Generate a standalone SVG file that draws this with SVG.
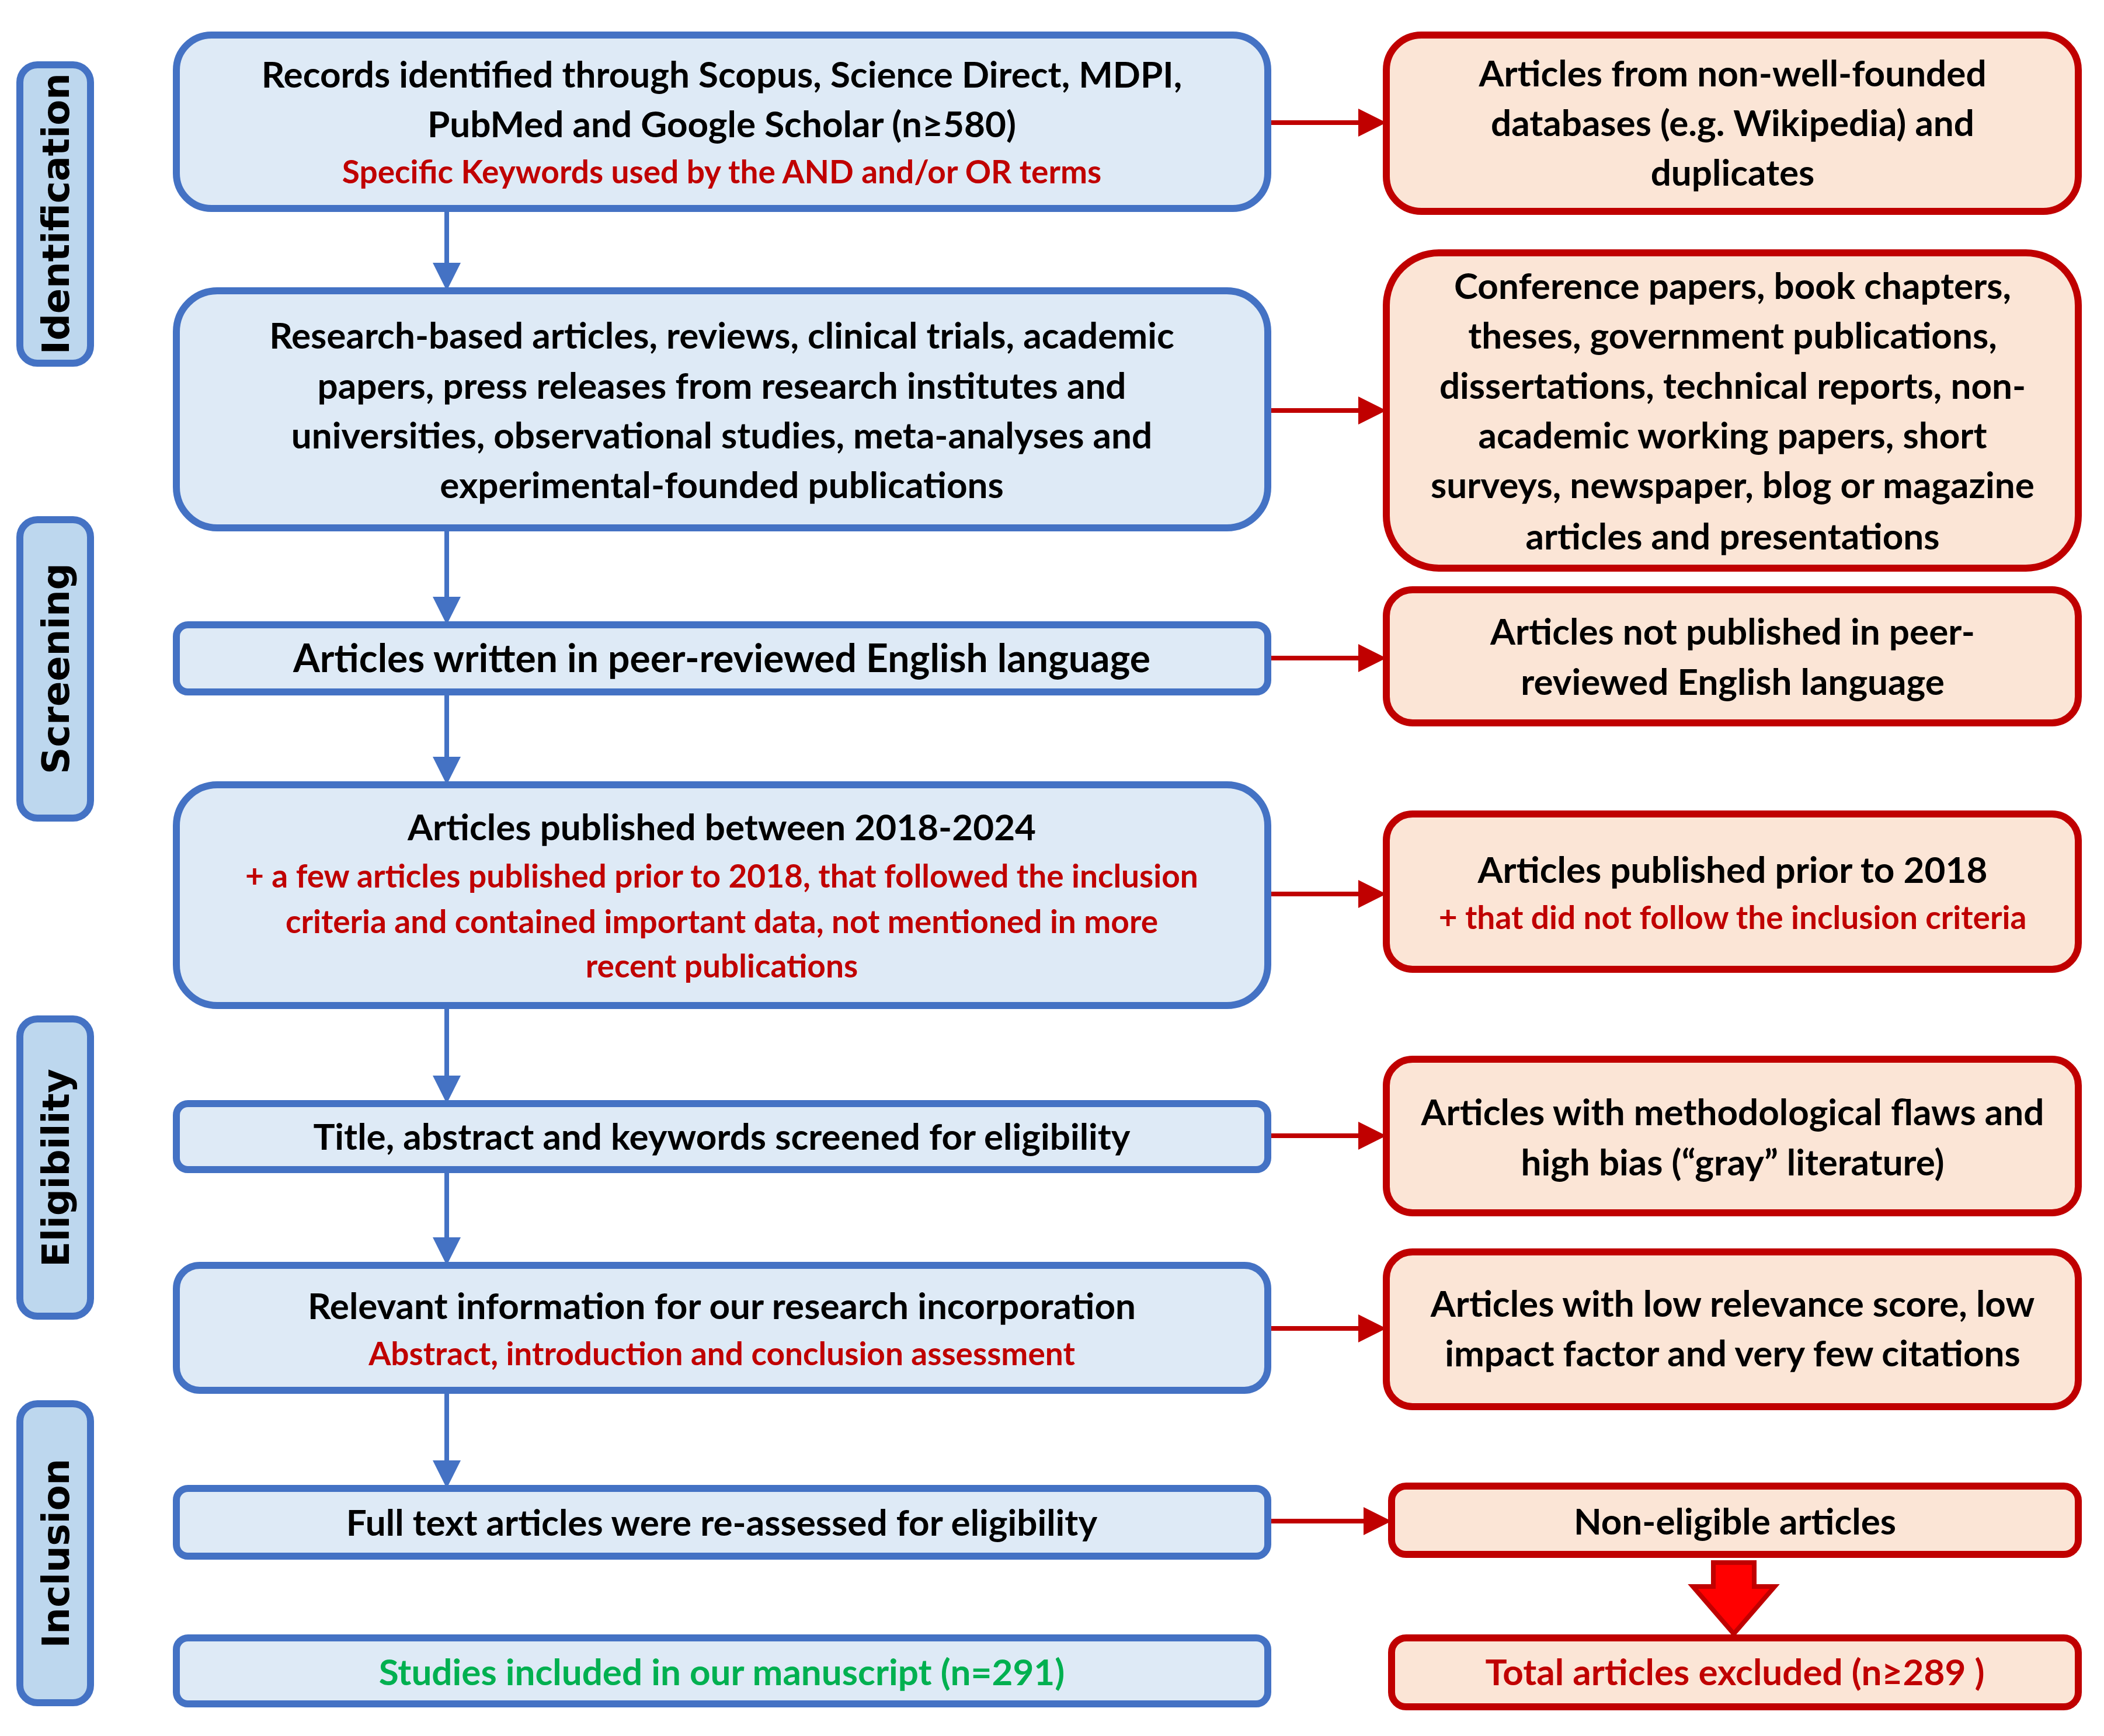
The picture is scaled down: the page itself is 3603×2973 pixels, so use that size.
<svg xmlns="http://www.w3.org/2000/svg" width="3603" height="2973" viewBox="0 0 3603 2973">
<style>
.b{fill:#DEEAF6;stroke:#4472C4;stroke-width:12}
.s{fill:#BDD7EE;stroke:#4472C4;stroke-width:12}
.r{fill:#FBE5D6;stroke:#C00000;stroke-width:12}
text{font-family:Lato,"Liberation Sans",sans-serif;font-weight:700;text-anchor:middle;fill:#000}
.t{font-size:62px}
.k{font-size:55px;fill:#C00000}
.st{font-family:"DejaVu Sans",sans-serif;font-size:64px}
.bl{stroke:#4472C4;stroke-width:8;fill:none}
.rl{stroke:#C00000;stroke-width:8;fill:none}
</style>
<defs>
<marker id="ab" markerWidth="6" markerHeight="6" refX="5" refY="3" orient="auto" markerUnits="strokeWidth"><path d="M0,0L6,3L0,6z" fill="#4472C4"/></marker>
<marker id="ar" markerWidth="6" markerHeight="6" refX="5" refY="3" orient="auto" markerUnits="strokeWidth"><path d="M0,0L6,3L0,6z" fill="#C00000"/></marker>
</defs>
<g id="stages">
<rect class="s" x="34" y="111" width="121" height="511" rx="30"/><text class="st" transform="translate(118,366) rotate(-90)">Identification</text>
<rect class="s" x="34" y="890" width="121" height="511" rx="30"/><text class="st" transform="translate(118,1145) rotate(-90)">Screening</text>
<rect class="s" x="34" y="1745" width="121" height="509" rx="30"/><text class="st" transform="translate(118,2000) rotate(-90)">Eligibility</text>
<rect class="s" x="34" y="2404" width="121" height="512" rx="30"/><text class="st" transform="translate(118,2660) rotate(-90)">Inclusion</text>
</g>
<g id="connectors">
<line class="bl" x1="765" y1="357" x2="765" y2="490" marker-end="url(#ab)"/>
<line class="bl" x1="765" y1="904" x2="765" y2="1062" marker-end="url(#ab)"/>
<line class="bl" x1="765" y1="1185" x2="765" y2="1336" marker-end="url(#ab)"/>
<line class="bl" x1="765" y1="1722" x2="765" y2="1882" marker-end="url(#ab)"/>
<line class="bl" x1="765" y1="2003" x2="765" y2="2159" marker-end="url(#ab)"/>
<line class="bl" x1="765" y1="2381" x2="765" y2="2541" marker-end="url(#ab)"/>
<line class="rl" x1="2171" y1="210" x2="2366" y2="210" marker-end="url(#ar)"/>
<line class="rl" x1="2171" y1="703" x2="2366" y2="703" marker-end="url(#ar)"/>
<line class="rl" x1="2171" y1="1127" x2="2366" y2="1127" marker-end="url(#ar)"/>
<line class="rl" x1="2171" y1="1531" x2="2366" y2="1531" marker-end="url(#ar)"/>
<line class="rl" x1="2171" y1="1945" x2="2366" y2="1945" marker-end="url(#ar)"/>
<line class="rl" x1="2171" y1="2275" x2="2366" y2="2275" marker-end="url(#ar)"/>
<line class="rl" x1="2171" y1="2605" x2="2375" y2="2605" marker-end="url(#ar)"/>
<path d="M2934,2676H3004V2717H3039L2969,2798L2899,2717H2934Z" fill="#FF0000" stroke="#C00000" stroke-width="8"/>
</g>
<g id="n1"><rect class="b" x="302" y="60" width="1869" height="297" rx="60"/>
<text class="t" x="1236" y="150">Records identified through Scopus, Science Direct, MDPI,</text>
<text class="t" x="1236" y="235">PubMed and Google Scholar (n≥580)</text>
<text class="k" x="1236" y="314">Specific Keywords used by the AND and/or OR terms</text></g>
<g id="n2"><rect class="b" x="302" y="498" width="1869" height="406" rx="70"/>
<text class="t" x="1236" y="597">Research-based articles, reviews, clinical trials, academic</text>
<text class="t" x="1236" y="683">papers, press releases from research institutes and</text>
<text class="t" x="1236" y="768">universities, observational studies, meta-analyses and</text>
<text class="t" x="1236" y="853">experimental-founded publications</text></g>
<g id="n3"><rect class="b" x="302" y="1070" width="1869" height="115" rx="20"/>
<text class="t" x="1236" y="1151" style="font-size:66px">Articles written in peer-reviewed English language</text></g>
<g id="n4"><rect class="b" x="302" y="1344" width="1869" height="378" rx="70"/>
<text class="t" x="1236" y="1439">Articles published between 2018-2024</text>
<text class="k" x="1236" y="1520">+ a few articles published prior to 2018, that followed the inclusion</text>
<text class="k" x="1236" y="1598">criteria and contained important data, not mentioned in more</text>
<text class="k" x="1236" y="1674">recent publications</text></g>
<g id="n5"><rect class="b" x="302" y="1890" width="1869" height="113" rx="20"/>
<text class="t" x="1236" y="1969">Title, abstract and keywords screened for eligibility</text></g>
<g id="n6"><rect class="b" x="302" y="2167" width="1869" height="214" rx="40"/>
<text class="t" x="1236" y="2259">Relevant information for our research incorporation</text>
<text class="k" x="1236" y="2338">Abstract, introduction and conclusion assessment</text></g>
<g id="n7"><rect class="b" x="302" y="2549" width="1869" height="116" rx="20"/>
<text class="t" x="1236" y="2630">Full text articles were re-assessed for eligibility</text></g>
<g id="n8"><rect class="b" x="302" y="2805" width="1869" height="113" rx="20"/>
<text class="t" x="1236" y="2886" style="fill:#00B050">Studies included in our manuscript (n=291)</text></g>
<g id="r1"><rect class="r" x="2374" y="60" width="1185" height="302" rx="60"/>
<text class="t" x="2967" y="148">Articles from non-well-founded</text>
<text class="t" x="2967" y="233">databases (e.g. Wikipedia) and</text>
<text class="t" x="2967" y="318">duplicates</text></g>
<g id="r2"><rect class="r" x="2374" y="433" width="1185" height="540" rx="90"/>
<text class="t" x="2967" y="512">Conference papers, book chapters,</text>
<text class="t" x="2967" y="597">theses, government publications,</text>
<text class="t" x="2967" y="683">dissertations, technical reports, non-</text>
<text class="t" x="2967" y="768">academic working papers, short</text>
<text class="t" x="2967" y="853">surveys, newspaper, blog or magazine</text>
<text class="t" x="2967" y="941">articles and presentations</text></g>
<g id="r3"><rect class="r" x="2374" y="1010" width="1185" height="228" rx="45"/>
<text class="t" x="2967" y="1104">Articles not published in peer-</text>
<text class="t" x="2967" y="1190">reviewed English language</text></g>
<g id="r4"><rect class="r" x="2374" y="1394" width="1185" height="266" rx="45"/>
<text class="t" x="2967" y="1512">Articles published prior to 2018</text>
<text class="k" x="2967" y="1591">+ that did not follow the inclusion criteria</text></g>
<g id="r5"><rect class="r" x="2374" y="1814" width="1185" height="263" rx="45"/>
<text class="t" x="2967" y="1927">Articles with methodological flaws and</text>
<text class="t" x="2967" y="2013">high bias (“gray” literature)</text></g>
<g id="r6"><rect class="r" x="2374" y="2144" width="1185" height="265" rx="45"/>
<text class="t" x="2967" y="2255">Articles with low relevance score, low</text>
<text class="t" x="2967" y="2340">impact factor and very few citations</text></g>
<g id="r7"><rect class="r" x="2383" y="2545" width="1176" height="117" rx="25"/>
<text class="t" x="2971" y="2628">Non-eligible articles</text></g>
<g id="r8"><rect class="r" x="2383" y="2805" width="1176" height="118" rx="25"/>
<text class="t" x="2971" y="2886" style="fill:#C00000">Total articles excluded (n≥289 )</text></g>
</svg>
